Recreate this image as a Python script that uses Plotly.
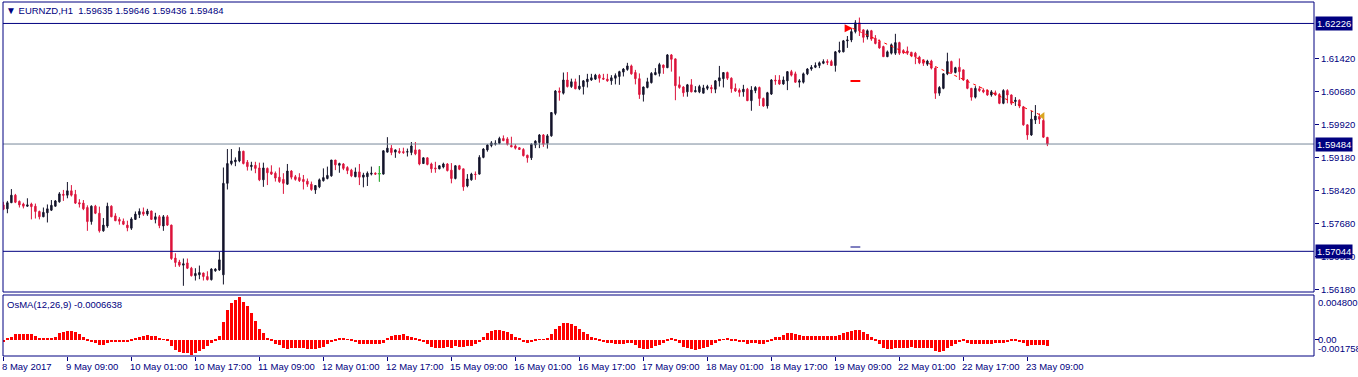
import plotly.graph_objects as go

# ---------------- data ----------------
time_labels = ["8 May 2017", "9 May 09:00", "10 May 01:00", "10 May 17:00", "11 May 09:00",
               "12 May 01:00", "12 May 17:00", "15 May 09:00", "16 May 01:00", "16 May 17:00",
               "17 May 09:00", "18 May 01:00", "18 May 17:00", "19 May 09:00", "22 May 01:00",
               "22 May 17:00", "23 May 09:00"]
time_label_bars = [0, 16, 32, 48, 64, 80, 96, 112, 128, 144, 160, 176, 192, 208, 224, 240, 256]

candles = [
    (1.5810, 1.5817, 1.5798, 1.5800), (1.5801, 1.5819, 1.5791, 1.5815), (1.5815, 1.5846, 1.5814, 1.5832),
    (1.5832, 1.5835, 1.5814, 1.5816), (1.5818, 1.5820, 1.5804, 1.5810), (1.5812, 1.5815, 1.5802, 1.5807),
    (1.5807, 1.5825, 1.5806, 1.5810), (1.5812, 1.5815, 1.5777, 1.5806), (1.5807, 1.5813, 1.5779, 1.5795),
    (1.5795, 1.5797, 1.5777, 1.5783), (1.5783, 1.5804, 1.5782, 1.5793), (1.5792, 1.5811, 1.5770, 1.5801),
    (1.5798, 1.5821, 1.5796, 1.5809), (1.5807, 1.5821, 1.5806, 1.5819), (1.5817, 1.5839, 1.5815, 1.5835),
    (1.5834, 1.5844, 1.5819, 1.5832), (1.5832, 1.5862, 1.5825, 1.5842), (1.5842, 1.5855, 1.5829, 1.5832),
    (1.5834, 1.5844, 1.5812, 1.5814), (1.5815, 1.5823, 1.5804, 1.5812), (1.5814, 1.5821, 1.5798, 1.5801),
    (1.5804, 1.5809, 1.5751, 1.5772), (1.5772, 1.5809, 1.5765, 1.5807), (1.5807, 1.5810, 1.5789, 1.5791),
    (1.5791, 1.5806, 1.5747, 1.5751), (1.5751, 1.5780, 1.5749, 1.5764), (1.5762, 1.5815, 1.5758, 1.5807),
    (1.5807, 1.5809, 1.5782, 1.5783), (1.5785, 1.5791, 1.5773, 1.5774), (1.5777, 1.5782, 1.5765, 1.5773),
    (1.5773, 1.5779, 1.5764, 1.5766), (1.5764, 1.5774, 1.5750, 1.5758), (1.5757, 1.5782, 1.5753, 1.5778),
    (1.5777, 1.5795, 1.5776, 1.5789), (1.5788, 1.5802, 1.5780, 1.5795), (1.5794, 1.5804, 1.5785, 1.5789),
    (1.5789, 1.5801, 1.5785, 1.5796), (1.5796, 1.5797, 1.5776, 1.5777), (1.5777, 1.5792, 1.5768, 1.5783),
    (1.5783, 1.5787, 1.5757, 1.5763), (1.5762, 1.5787, 1.5751, 1.5783), (1.5783, 1.5787, 1.5762, 1.5764),
    (1.5764, 1.5765, 1.5685, 1.5688), (1.5689, 1.5700, 1.5669, 1.5679), (1.5680, 1.5685, 1.5669, 1.5673),
    (1.5673, 1.5688, 1.5626, 1.5676), (1.5678, 1.5688, 1.5664, 1.5666), (1.5666, 1.5669, 1.5647, 1.5649),
    (1.5649, 1.5666, 1.5638, 1.5654), (1.5651, 1.5672, 1.5641, 1.5656), (1.5655, 1.5656, 1.5638, 1.5647),
    (1.5647, 1.5659, 1.5638, 1.5640), (1.5640, 1.5666, 1.5638, 1.5664), (1.5660, 1.5666, 1.5658, 1.5664),
    (1.5662, 1.5703, 1.5660, 1.5685), (1.5651, 1.5895, 1.5629, 1.5859), (1.5859, 1.5937, 1.5845, 1.5904),
    (1.5904, 1.5937, 1.5900, 1.5910), (1.5908, 1.5918, 1.5898, 1.5912), (1.5910, 1.5941, 1.5907, 1.5932),
    (1.5932, 1.5933, 1.5902, 1.5904), (1.5907, 1.5912, 1.5888, 1.5897), (1.5897, 1.5908, 1.5888, 1.5900),
    (1.5900, 1.5908, 1.5882, 1.5893), (1.5894, 1.5906, 1.5864, 1.5867), (1.5867, 1.5906, 1.5851, 1.5894),
    (1.5893, 1.5895, 1.5855, 1.5883), (1.5885, 1.5900, 1.5878, 1.5880), (1.5882, 1.5886, 1.5863, 1.5871),
    (1.5873, 1.5895, 1.5860, 1.5863), (1.5868, 1.5882, 1.5835, 1.5859), (1.5857, 1.5903, 1.5856, 1.5887),
    (1.5887, 1.5889, 1.5868, 1.5873), (1.5874, 1.5878, 1.5865, 1.5868), (1.5872, 1.5882, 1.5862, 1.5865),
    (1.5868, 1.5878, 1.5845, 1.5863), (1.5864, 1.5870, 1.5851, 1.5857), (1.5857, 1.5863, 1.5842, 1.5845),
    (1.5844, 1.5855, 1.5835, 1.5854), (1.5851, 1.5870, 1.5848, 1.5867), (1.5865, 1.5893, 1.5863, 1.5872),
    (1.5870, 1.5897, 1.5868, 1.5877), (1.5876, 1.5912, 1.5874, 1.5912), (1.5912, 1.5912, 1.5889, 1.5901),
    (1.5900, 1.5906, 1.5883, 1.5904), (1.5903, 1.5905, 1.5889, 1.5893), (1.5895, 1.5898, 1.5880, 1.5888),
    (1.5889, 1.5892, 1.5873, 1.5876), (1.5874, 1.5895, 1.5873, 1.5885), (1.5885, 1.5903, 1.5855, 1.5873),
    (1.5873, 1.5883, 1.5850, 1.5878), (1.5874, 1.5886, 1.5853, 1.5882), (1.5880, 1.5897, 1.5877, 1.5882),
    (1.5882, 1.5884, 1.5878, 1.5880), (1.5881, 1.5898, 1.5863, 1.5881), (1.5880, 1.5934, 1.5879, 1.5933),
    (1.5930, 1.5964, 1.5929, 1.5939), (1.5939, 1.5946, 1.5923, 1.5929), (1.5930, 1.5936, 1.5917, 1.5935),
    (1.5932, 1.5939, 1.5926, 1.5929), (1.5931, 1.5940, 1.5926, 1.5929), (1.5930, 1.5938, 1.5920, 1.5931),
    (1.5929, 1.5953, 1.5923, 1.5944), (1.5935, 1.5953, 1.5923, 1.5926), (1.5935, 1.5936, 1.5900, 1.5903),
    (1.5904, 1.5918, 1.5903, 1.5917), (1.5917, 1.5918, 1.5900, 1.5902), (1.5903, 1.5906, 1.5883, 1.5892),
    (1.5894, 1.5908, 1.5883, 1.5892), (1.5892, 1.5900, 1.5891, 1.5899), (1.5896, 1.5906, 1.5893, 1.5903),
    (1.5903, 1.5905, 1.5886, 1.5888), (1.5889, 1.5905, 1.5859, 1.5870), (1.5870, 1.5900, 1.5868, 1.5899),
    (1.5899, 1.5901, 1.5889, 1.5891), (1.5892, 1.5892, 1.5842, 1.5851), (1.5853, 1.5880, 1.5850, 1.5869),
    (1.5867, 1.5883, 1.5865, 1.5880), (1.5880, 1.5886, 1.5867, 1.5879), (1.5880, 1.5923, 1.5879, 1.5918),
    (1.5918, 1.5939, 1.5916, 1.5937), (1.5935, 1.5948, 1.5931, 1.5946), (1.5945, 1.5955, 1.5941, 1.5951),
    (1.5948, 1.5957, 1.5945, 1.5950), (1.5950, 1.5965, 1.5948, 1.5961), (1.5961, 1.5968, 1.5955, 1.5956),
    (1.5960, 1.5964, 1.5945, 1.5948), (1.5945, 1.5965, 1.5941, 1.5942), (1.5944, 1.5948, 1.5936, 1.5939),
    (1.5940, 1.5941, 1.5935, 1.5936), (1.5936, 1.5939, 1.5920, 1.5922), (1.5923, 1.5924, 1.5906, 1.5917),
    (1.5917, 1.5950, 1.5912, 1.5948), (1.5946, 1.5957, 1.5939, 1.5955), (1.5952, 1.5971, 1.5939, 1.5969),
    (1.5969, 1.5971, 1.5942, 1.5948), (1.5950, 1.5971, 1.5938, 1.5967), (1.5967, 1.6021, 1.5965, 1.6020),
    (1.6018, 1.6071, 1.6014, 1.6069), (1.6069, 1.6077, 1.6047, 1.6066), (1.6064, 1.6111, 1.6061, 1.6094),
    (1.6094, 1.6112, 1.6077, 1.6079), (1.6079, 1.6097, 1.6076, 1.6090), (1.6090, 1.6097, 1.6073, 1.6074),
    (1.6074, 1.6105, 1.6071, 1.6080), (1.6079, 1.6094, 1.6061, 1.6092), (1.6090, 1.6108, 1.6077, 1.6096),
    (1.6094, 1.6108, 1.6092, 1.6099), (1.6096, 1.6108, 1.6094, 1.6105), (1.6105, 1.6108, 1.6088, 1.6098),
    (1.6098, 1.6108, 1.6094, 1.6096), (1.6096, 1.6108, 1.6090, 1.6092), (1.6092, 1.6105, 1.6083, 1.6099),
    (1.6098, 1.6109, 1.6084, 1.6104), (1.6102, 1.6115, 1.6083, 1.6113), (1.6112, 1.6121, 1.6102, 1.6119),
    (1.6118, 1.6133, 1.6115, 1.6126), (1.6126, 1.6129, 1.6106, 1.6108), (1.6111, 1.6117, 1.6084, 1.6097),
    (1.6097, 1.6109, 1.6051, 1.6061), (1.6061, 1.6079, 1.6045, 1.6078), (1.6077, 1.6099, 1.6075, 1.6090),
    (1.6088, 1.6112, 1.6086, 1.6109), (1.6106, 1.6121, 1.6105, 1.6111), (1.6109, 1.6133, 1.6102, 1.6129),
    (1.6128, 1.6129, 1.6108, 1.6122), (1.6122, 1.6153, 1.6121, 1.6151), (1.6151, 1.6153, 1.6113, 1.6141),
    (1.6142, 1.6143, 1.6048, 1.6081), (1.6083, 1.6102, 1.6074, 1.6077), (1.6078, 1.6080, 1.6056, 1.6065),
    (1.6067, 1.6085, 1.6056, 1.6083), (1.6083, 1.6096, 1.6066, 1.6067), (1.6067, 1.6080, 1.6066, 1.6070),
    (1.6067, 1.6083, 1.6064, 1.6079), (1.6064, 1.6083, 1.6064, 1.6076), (1.6075, 1.6083, 1.6071, 1.6079),
    (1.6077, 1.6083, 1.6064, 1.6074), (1.6073, 1.6094, 1.6064, 1.6092), (1.6092, 1.6126, 1.6079, 1.6099),
    (1.6097, 1.6111, 1.6077, 1.6111), (1.6111, 1.6113, 1.6094, 1.6098), (1.6098, 1.6100, 1.6065, 1.6074),
    (1.6075, 1.6086, 1.6067, 1.6069), (1.6071, 1.6075, 1.6056, 1.6066), (1.6067, 1.6083, 1.6056, 1.6073),
    (1.6073, 1.6076, 1.6046, 1.6047), (1.6047, 1.6080, 1.6024, 1.6071), (1.6070, 1.6080, 1.6064, 1.6077),
    (1.6077, 1.6079, 1.6035, 1.6052), (1.6052, 1.6054, 1.6033, 1.6035), (1.6035, 1.6067, 1.6029, 1.6065),
    (1.6062, 1.6096, 1.6060, 1.6094), (1.6094, 1.6105, 1.6083, 1.6092), (1.6094, 1.6105, 1.6083, 1.6085),
    (1.6085, 1.6102, 1.6083, 1.6094), (1.6092, 1.6114, 1.6071, 1.6113), (1.6113, 1.6117, 1.6102, 1.6105),
    (1.6108, 1.6113, 1.6088, 1.6089), (1.6089, 1.6096, 1.6077, 1.6092), (1.6089, 1.6111, 1.6086, 1.6108),
    (1.6108, 1.6121, 1.6105, 1.6119), (1.6119, 1.6128, 1.6115, 1.6123), (1.6123, 1.6134, 1.6121, 1.6127),
    (1.6127, 1.6136, 1.6121, 1.6133), (1.6132, 1.6141, 1.6130, 1.6136), (1.6136, 1.6141, 1.6128, 1.6134),
    (1.6136, 1.6140, 1.6126, 1.6127), (1.6127, 1.6160, 1.6113, 1.6158), (1.6158, 1.6181, 1.6155, 1.6161),
    (1.6158, 1.6185, 1.6157, 1.6183), (1.6183, 1.6194, 1.6167, 1.6185), (1.6185, 1.6211, 1.6180, 1.6204),
    (1.6204, 1.6230, 1.6200, 1.6224), (1.6224, 1.6236, 1.6194, 1.6206), (1.6208, 1.6209, 1.6179, 1.6191),
    (1.6192, 1.6209, 1.6186, 1.6206), (1.6206, 1.6208, 1.6183, 1.6187), (1.6189, 1.6196, 1.6175, 1.6177),
    (1.6181, 1.6186, 1.6165, 1.6167), (1.6170, 1.6172, 1.6147, 1.6147), (1.6147, 1.6161, 1.6146, 1.6158),
    (1.6155, 1.6177, 1.6152, 1.6174), (1.6155, 1.6199, 1.6151, 1.6179), (1.6179, 1.6181, 1.6151, 1.6155),
    (1.6161, 1.6164, 1.6153, 1.6156), (1.6160, 1.6170, 1.6151, 1.6155), (1.6157, 1.6158, 1.6146, 1.6149),
    (1.6155, 1.6158, 1.6130, 1.6147), (1.6146, 1.6149, 1.6130, 1.6133), (1.6140, 1.6141, 1.6126, 1.6132),
    (1.6130, 1.6140, 1.6126, 1.6137), (1.6137, 1.6140, 1.6118, 1.6121), (1.6121, 1.6123, 1.6051, 1.6064),
    (1.6064, 1.6080, 1.6058, 1.6077), (1.6075, 1.6109, 1.6073, 1.6108), (1.6108, 1.6156, 1.6105, 1.6136),
    (1.6136, 1.6138, 1.6108, 1.6111), (1.6111, 1.6124, 1.6109, 1.6122), (1.6123, 1.6143, 1.6094, 1.6113),
    (1.6117, 1.6118, 1.6092, 1.6094), (1.6094, 1.6096, 1.6073, 1.6075), (1.6075, 1.6076, 1.6047, 1.6055),
    (1.6055, 1.6080, 1.6052, 1.6075), (1.6074, 1.6080, 1.6067, 1.6070), (1.6071, 1.6075, 1.6064, 1.6067),
    (1.6070, 1.6073, 1.6058, 1.6060), (1.6060, 1.6071, 1.6056, 1.6067), (1.6065, 1.6070, 1.6058, 1.6060),
    (1.6061, 1.6064, 1.6039, 1.6041), (1.6041, 1.6073, 1.6039, 1.6070), (1.6070, 1.6073, 1.6041, 1.6060),
    (1.6060, 1.6061, 1.6037, 1.6041), (1.6045, 1.6055, 1.6035, 1.6048), (1.6048, 1.6050, 1.6030, 1.6035),
    (1.6033, 1.6035, 1.5990, 1.5992), (1.5992, 1.5993, 1.5958, 1.5969), (1.5969, 1.6024, 1.5967, 1.6005),
    (1.6003, 1.6037, 1.5994, 1.6012), (1.6011, 1.6018, 1.5994, 1.6005), (1.6002, 1.6007, 1.5962, 1.5964),
    (1.59635, 1.59646, 1.59436, 1.59484),
]
open_ = [c[0] for c in candles]
high = [c[1] for c in candles]
low = [c[2] for c in candles]
close = [c[3] for c in candles]

osma = [
    -0.00030, 0.00020, 0.00024, 0.00060, 0.00060, 0.00060, 0.00060, 0.00057, 0.00039, 0.00010,
    0.00010, 0.00008, 0.00010, 0.00032, 0.00067, 0.00082, 0.00092, 0.00092, 0.00078, 0.00060,
    0.00024, -0.00015, -0.00022, -0.00033, -0.00054, -0.00062, -0.00037, -0.00029, -0.00029, -0.00029,
    -0.00029, -0.00026, -0.00011, 0.00014, 0.00032, 0.00039, 0.00046, 0.00039, 0.00035, 0.00017,
    0.00003, -0.00004, -0.00069, -0.00115, -0.00137, -0.00140, -0.00148, -0.00160, -0.00148, -0.00122,
    -0.00097, -0.00065, -0.00040, -0.00019, 0.00039, 0.00189, 0.00318, 0.00397, 0.00425, 0.00460,
    0.00407, 0.00361, 0.00282, 0.00200, 0.00110, 0.00067, 0.00014, -0.00015, -0.00047, -0.00062,
    -0.00094, -0.00097, -0.00094, -0.00094, -0.00094, -0.00094, -0.00097, -0.00097, -0.00097, -0.00090,
    -0.00076, -0.00047, -0.00026, -0.00004, 0.00010, 0.00014, 0.00003, -0.00008, -0.00026, -0.00044,
    -0.00047, -0.00047, -0.00047, -0.00044, -0.00044, -0.00040, 0.00014, 0.00042, 0.00049, 0.00049,
    0.00057, 0.00039, 0.00032, 0.00014, -0.00011, -0.00026, -0.00047, -0.00076, -0.00087, -0.00087,
    -0.00087, -0.00083, -0.00087, -0.00069, -0.00076, -0.00076, -0.00069, -0.00069, -0.00051, -0.00022,
    0.00032, 0.00074, 0.00092, 0.00103, 0.00107, 0.00096, 0.00085, 0.00057, 0.00032, 0.00010,
    -0.00022, -0.00033, -0.00026, -0.00011, 0.00003, 0.00003, 0.00014, 0.00060, 0.00110, 0.00150,
    0.00182, 0.00182, 0.00168, 0.00146, 0.00110, 0.00085, 0.00057, 0.00032, 0.00014, -0.00004,
    -0.00026, -0.00033, -0.00040, -0.00047, -0.00047, -0.00047, -0.00040, -0.00040, -0.00058, -0.00094,
    -0.00105, -0.00105, -0.00094, -0.00069, -0.00058, -0.00033, -0.00019, 0.00014, -0.00004, -0.00040,
    -0.00076, -0.00094, -0.00105, -0.00112, -0.00101, -0.00087, -0.00076, -0.00062, -0.00040, -0.00019,
    0.00003, 0.00010, -0.00008, -0.00019, -0.00026, -0.00029, -0.00047, -0.00040, -0.00037, -0.00044,
    -0.00047, -0.00026, -0.00004, 0.00024, 0.00032, 0.00046, 0.00067, 0.00074, 0.00057, 0.00050,
    0.00039, 0.00039, 0.00039, 0.00039, 0.00039, 0.00039, 0.00039, 0.00039, 0.00039, 0.00049,
    0.00067, 0.00078, 0.00096, 0.00103, 0.00103, 0.00078, 0.00057, 0.00024, -0.00011, -0.00047,
    -0.00087, -0.00097, -0.00097, -0.00094, -0.00090, -0.00087, -0.00087, -0.00083, -0.00087, -0.00087,
    -0.00087, -0.00094, -0.00094, -0.00119, -0.00130, -0.00119, -0.00094, -0.00069, -0.00047, -0.00026,
    -0.00019, -0.00033, -0.00051, -0.00051, -0.00051, -0.00051, -0.00051, -0.00047, -0.00040, -0.00033,
    -0.00033, -0.00022, -0.00011, -0.00011, -0.00022, -0.00040, -0.00069, -0.00062, -0.00058, -0.00054,
    -0.00054, -0.00066,
]

price_ticks = [1.56180, 1.56920, 1.57680, 1.58420, 1.59180, 1.59920, 1.60680, 1.61420]
hline_levels = [1.62226, 1.57044]
bid_level = 1.59484
osma_max, osma_min = 0.004800, -0.001758

# trade objects drawn on the chart (bar position, price)
trade_line_x = [212.3, 259.8]
trade_line_y = [1.62115, 1.60121]
stop_mark_x = [213.0]
stop_mark_y = [1.60917]
level_mark_x = [213.0]
level_mark_y = [1.57142]

title_text = "EURNZD,H1\u00a0\u00a01.59635 1.59646 1.59436 1.59484"
osma_text = "OsMA(12,26,9) -0.0006638"

# ---------------- styling ----------------
NAVY = "#000080"
BULL = "#14142a"
BEAR = "#dc143c"
FONT = "Liberation Sans"
FS = 9.5

W, H = 1358, 377
L, R, T, B = 3, 44, 2, 21
plot_h = H - T - B
main_bottom = (H - B - 292) / plot_h
ind_top = (H - B - 295) / plot_h

idx = list(range(len(close)))
px_per_bar = 4.0
x0 = -0.1
x1 = x0 + (W - L - R) / px_per_bar

fig = go.Figure()

# trade line (beneath candles)
fig.add_trace(go.Scatter(x=trade_line_x, y=trade_line_y, mode="lines",
                         line=dict(color="#ff0000", width=1, dash="3px,4px"),
                         hoverinfo="skip", showlegend=False, xaxis="x", yaxis="y"))

fig.add_trace(go.Candlestick(
    x=idx, open=open_, high=high, low=low, close=close,
    increasing=dict(line=dict(color=BULL, width=1), fillcolor=BULL),
    decreasing=dict(line=dict(color=BEAR, width=1), fillcolor=BEAR),
    whiskerwidth=0, showlegend=False, hoverinfo="skip", xaxis="x", yaxis="y"))

# doji candles (open == close) drawn in lime like the terminal does
dx, dy = [], []
for i in idx:
    if open_[i] == close[i]:
        dx += [i, i, None, i - 0.4, i + 0.4, None]
        dy += [low[i], high[i], None, open_[i], open_[i], None]
fig.add_trace(go.Scatter(x=dx, y=dy, mode="lines", line=dict(color="#32cd32", width=1),
                         hoverinfo="skip", showlegend=False, xaxis="x", yaxis="y"))

# trade markers
fig.add_trace(go.Scatter(x=[trade_line_x[0]], y=[trade_line_y[0]], mode="markers",
                         marker=dict(symbol="arrow-right", size=8, color="#ff0000",
                                     line=dict(width=0)),
                         hoverinfo="skip", showlegend=False, xaxis="x", yaxis="y"))
fig.add_trace(go.Scatter(x=[trade_line_x[1]], y=[trade_line_y[1]], mode="markers",
                         marker=dict(symbol="triangle-left", size=7, color="#daa520",
                                     line=dict(width=0)),
                         hoverinfo="skip", showlegend=False, xaxis="x", yaxis="y"))
fig.add_trace(go.Scatter(x=stop_mark_x, y=stop_mark_y, mode="markers",
                         marker=dict(symbol="line-ew", size=7, line=dict(color="#ff0000", width=2)),
                         hoverinfo="skip", showlegend=False, xaxis="x", yaxis="y"))
fig.add_trace(go.Scatter(x=level_mark_x, y=level_mark_y, mode="markers",
                         marker=dict(symbol="line-ew", size=7, line=dict(color=NAVY, width=1)),
                         hoverinfo="skip", showlegend=False, xaxis="x", yaxis="y"))

# OsMA histogram
fig.add_trace(go.Bar(x=idx, y=osma, width=0.75, marker=dict(color="#ff0000", line=dict(width=0)),
                     hoverinfo="skip", showlegend=False, xaxis="x", yaxis="y2"))

shapes = []
# horizontal level lines
for lv in hline_levels:
    shapes.append(dict(type="line", xref="paper", yref="y", x0=0, x1=1, y0=lv, y1=lv,
                       line=dict(color=NAVY, width=1), layer="above"))
shapes.append(dict(type="line", xref="paper", yref="y", x0=0, x1=1, y0=bid_level, y1=bid_level,
                   line=dict(color="#778899", width=1), layer="above"))
# panel borders
shapes.append(dict(type="rect", xref="paper", yref="paper", x0=0, x1=1, y0=main_bottom, y1=1,
                   line=dict(color=NAVY, width=1), layer="above"))
shapes.append(dict(type="rect", xref="paper", yref="paper", x0=0, x1=1, y0=0, y1=ind_top,
                   line=dict(color=NAVY, width=1), layer="above"))

ann = []
# price boxes on the axis
for lv in hline_levels + [bid_level]:
    ann.append(dict(xref="paper", yref="y", x=1, y=lv, xanchor="left", yanchor="middle",
                    xshift=1, text=f"{lv:.5f}", showarrow=False, bgcolor=NAVY,
                    borderpad=1, font=dict(family=FONT, size=FS, color="white")))
# indicator scale labels
ann.append(dict(xref="paper", yref="y2", x=1, y=osma_max, xanchor="left", yanchor="top",
                xshift=2, text=f"{osma_max:.6f}", showarrow=False,
                font=dict(family=FONT, size=FS, color=NAVY)))
ann.append(dict(xref="paper", yref="y2", x=1, y=0, xanchor="left", yanchor="middle",
                xshift=2, text="0.00", showarrow=False,
                font=dict(family=FONT, size=FS, color=NAVY)))
ann.append(dict(xref="paper", yref="y2", x=1, y=osma_min, xanchor="left", yanchor="bottom",
                xshift=2, text=f"{osma_min:.6f}", showarrow=False,
                font=dict(family=FONT, size=FS, color=NAVY)))
# time labels
for b, t in zip(time_label_bars, time_labels):
    ann.append(dict(xref="x", yref="paper", x=b, y=0, xanchor="left", yanchor="middle",
                    xshift=-3, yshift=-10, text=t, showarrow=False,
                    font=dict(family=FONT, size=FS, color=NAVY)))
# chart title and indicator title
ann.append(dict(xref="paper", yref="paper", x=0, y=1, xanchor="left", yanchor="top",
                xshift=1, yshift=-1,
                text='<span style="font-size:10px">\u25bc</span>\u00a0' + title_text,
                showarrow=False, font=dict(family=FONT, size=FS, color=NAVY)))
ann.append(dict(xref="paper", yref="paper", x=0, y=ind_top, xanchor="left", yanchor="top",
                xshift=2, yshift=-2, text=osma_text, showarrow=False,
                font=dict(family=FONT, size=FS, color=NAVY)))

fig.update_layout(
    width=W, height=H,
    margin=dict(l=L, r=R, t=T, b=B, pad=0),
    paper_bgcolor="white", plot_bgcolor="white",
    showlegend=False, hovermode=False, boxgap=0.5, bargap=0,
    font=dict(family=FONT, size=FS, color=NAVY),
    xaxis=dict(range=[x0, x1], anchor="y2", showgrid=False, zeroline=False,
               rangeslider=dict(visible=False), tickmode="array", tickvals=time_label_bars,
               ticks="outside", ticklen=4, tickcolor=NAVY, tickwidth=1,
               showticklabels=False, showline=False, fixedrange=True),
    yaxis=dict(domain=[main_bottom, 1], range=[1.62759 - 0.0002274 * 292, 1.62759 - 0.0002274 * 2],
               side="right", anchor="x", showgrid=False, zeroline=False,
               tickmode="array", tickvals=price_ticks, ticktext=[f"{v:.5f}" for v in price_ticks],
               ticks="outside", ticklen=4, tickcolor=NAVY, tickwidth=1,
               tickfont=dict(family=FONT, size=FS, color=NAVY), fixedrange=True),
    yaxis2=dict(domain=[0, ind_top], range=[osma_min, osma_max], side="right", anchor="x",
                showgrid=False, zeroline=False, tickmode="array", tickvals=[0],
                ticks="outside", ticklen=4, tickcolor=NAVY, tickwidth=1,
                showticklabels=False, fixedrange=True),
    shapes=shapes, annotations=ann,
)

fig.write_html("out.html", config={"displayModeBar": False},
               post_script="document.body.style.margin='0';document.body.style.overflow='hidden';")
